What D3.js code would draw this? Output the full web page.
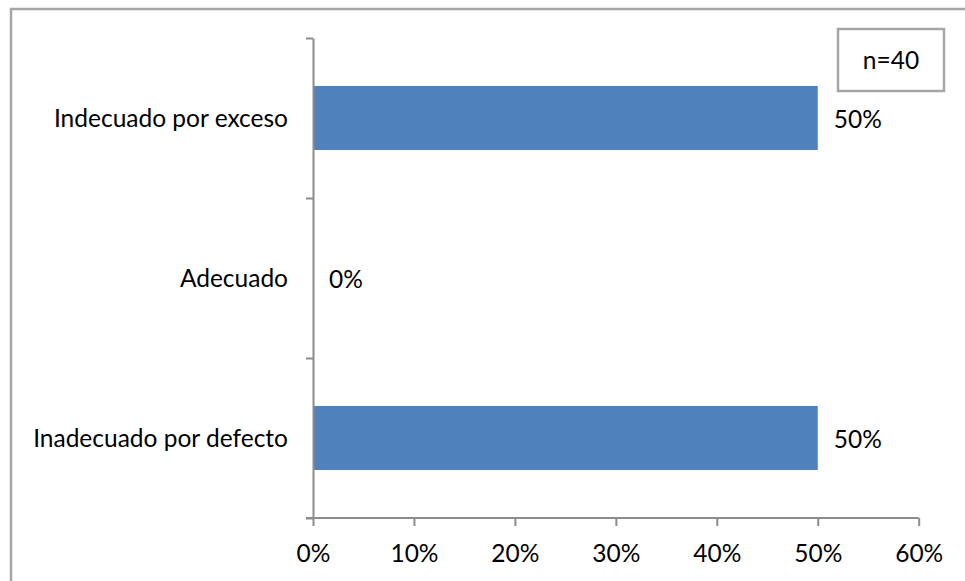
<!DOCTYPE html>
<html>
<head>
<meta charset="utf-8">
<script src="https://cdn.jsdelivr.net/npm/d3@7"></script>
<style>
  html, body { margin: 0; padding: 0; background: #fff; }
  svg { display: block; }
  text { font-family: Lato, "Open Sans", sans-serif; fill: #000; }
</style>
</head>
<body>
<svg id="chart" width="965" height="581"></svg>
<script>
// Categories listed top to bottom
const categories = ["Indecuado por exceso", "Adecuado", "Inadecuado por defecto"];
const values = [0.50, 0.00, 0.50];
const xTicks = [0, 0.1, 0.2, 0.3, 0.4, 0.5, 0.6];
const sampleNote = "n=40";

const W = 965, H = 581;
const plot = { left: 313, right: 918.7, top: 38, bottom: 518 };
const fontSize = 24.5;

const svg = d3.select("#chart");

// outer frame (open on the right and bottom)
svg.append("path")
  .attr("d", `M11,${H} L11,9 L${W},9`)
  .attr("fill", "none")
  .attr("stroke", "#a6a6a6")
  .attr("stroke-width", 2.5);

const x = d3.scaleLinear().domain([0, 0.6]).range([plot.left, plot.right]);
const y = d3.scaleBand().domain(categories).range([plot.top, plot.bottom]).paddingInner(0.6).paddingOuter(0.3);
const yEdges = d3.scaleLinear().domain([0, categories.length]).range([plot.top, plot.bottom]);

// bars
svg.append("g").selectAll("rect")
  .data(categories)
  .join("rect")
  .attr("x", x(0))
  .attr("y", d => y(d))
  .attr("width", (d, i) => x(values[i]) - x(0))
  .attr("height", y.bandwidth())
  .attr("fill", "#4f81bd");

// value labels
svg.append("g").selectAll("text")
  .data(categories)
  .join("text")
  .attr("x", (d, i) => x(values[i]) + 16)
  .attr("y", d => y(d) + y.bandwidth() / 2 + 1)
  .attr("dy", "0.36em")
  .attr("font-size", fontSize)
  .text((d, i) => d3.format(".0%")(values[i]));

const axisColor = "#8c8c8c";

// x axis
const xAxis = svg.append("g")
  .attr("transform", `translate(0,${plot.bottom})`)
  .call(d3.axisBottom(x).tickValues(xTicks).tickFormat(d3.format(".0%")).tickSize(8).tickSizeOuter(0));
xAxis.select(".domain").attr("stroke", axisColor).attr("stroke-width", 2).attr("d", `M${plot.left - 7},0H${plot.right}`);
xAxis.selectAll(".tick line").attr("stroke", axisColor).attr("stroke-width", 2);
xAxis.selectAll(".tick text")
  .attr("font-size", fontSize)
  .attr("font-family", "Lato, 'Open Sans', sans-serif")
  .attr("fill", "#000")
  .attr("y", 44)
  .attr("dy", 0);

// y axis with ticks at category boundaries
const yAxisG = svg.append("g").attr("transform", `translate(${plot.left},0)`);
yAxisG.call(d3.axisLeft(yEdges).tickValues(d3.range(categories.length + 1)).tickSize(7).tickSizeOuter(0).tickFormat(""));
yAxisG.select(".domain").attr("stroke", axisColor).attr("stroke-width", 2);
yAxisG.selectAll(".tick line").attr("stroke", axisColor).attr("stroke-width", 2);

// category labels
svg.append("g").selectAll("text")
  .data(categories)
  .join("text")
  .attr("x", plot.left - 25)
  .attr("y", d => y(d) + y.bandwidth() / 2)
  .attr("dy", "0.36em")
  .attr("text-anchor", "end")
  .attr("font-size", fontSize)
  .text(d => d);

// sample size box
const note = svg.append("g");
note.append("rect")
  .attr("x", 838).attr("y", 29).attr("width", 106).attr("height", 62)
  .attr("fill", "#fff").attr("stroke", "#a6a6a6").attr("stroke-width", 2.5);
note.append("text")
  .attr("x", 891).attr("y", 60).attr("dy", "0.36em")
  .attr("text-anchor", "middle")
  .attr("font-size", fontSize)
  .text(sampleNote);
</script>
</body>
</html>
